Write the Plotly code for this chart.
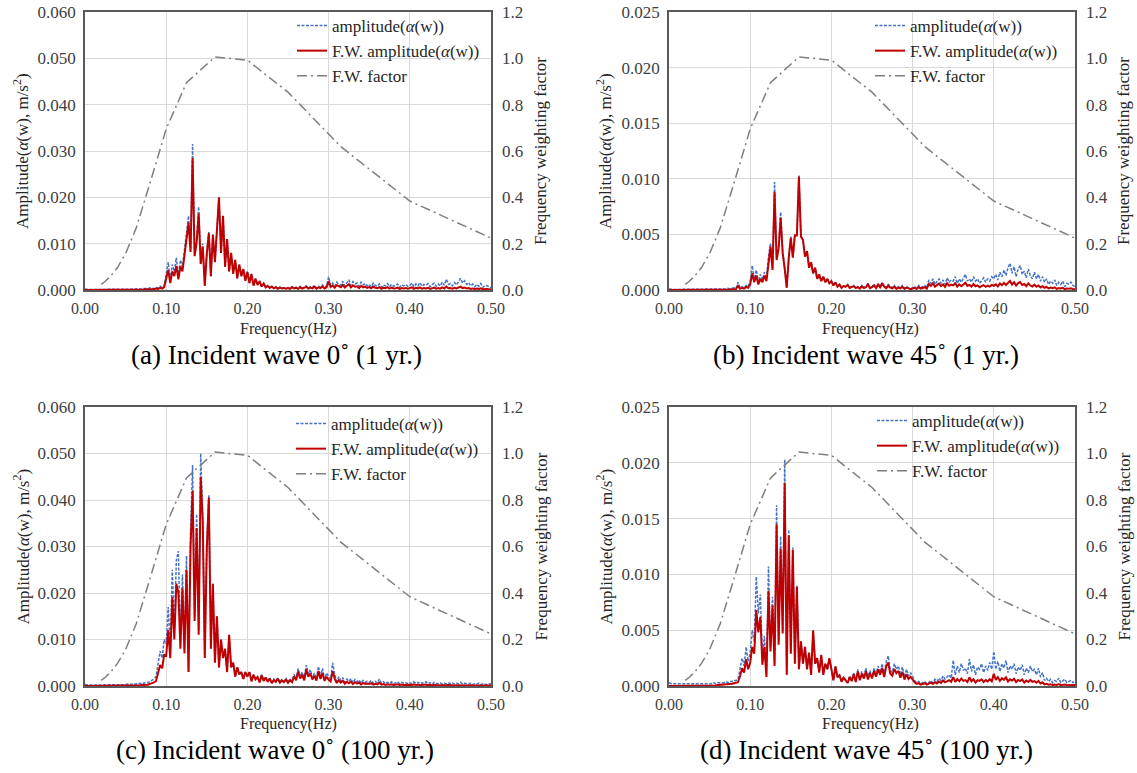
import numpy as np
import plotly.graph_objects as go

# ---------------- data ----------------
# frequency bins (Hz), 0.0025 Hz spacing from 0 to 0.5
freq = np.round(np.arange(0, 0.5001, 0.0025), 4)

# ISO 2631-1 Wf frequency weighting factor (1/3 octave bands)
fw_freq = [0.02, 0.025, 0.0315, 0.04, 0.05, 0.063, 0.08, 0.1, 0.125, 0.16, 0.2, 0.25, 0.315, 0.4, 0.5]
fw_factor = [0.0242, 0.0377, 0.0597, 0.0971, 0.157, 0.267, 0.461, 0.695, 0.895, 1.006, 0.992, 0.854, 0.619, 0.384, 0.224]

# amplitudes in mm/s^2 (converted to m/s^2 for plotting)
amp_a = [0.2,0.1,0.1,0.1,0.1,0.1,0.1,0.1,0.1,0.1,0.1,0.2,0.1,0.1,0.2,0.1,0.1,0.2,0.1,0.2,
         0.2,0.1,0.2,0.2,0.2,0.2,0.3,0.2,0.3,0.3,0.4,0.3,0.5,0.4,0.3,0.6,0.4,0.8,0.5,0.9,
         3.5,6.0,2.0,5.5,4.0,7.0,3.0,6.5,5.0,9.0,13.0,16.0,9.0,31.5,8.0,11.0,18.0,6.0,10.0,1.0,
         8.0,12.5,3.0,12.0,6.0,14.0,20.0,8.0,16.0,5.0,11.0,4.0,8.0,3.5,6.5,2.5,5.5,3.0,4.5,2.0,
         4.0,1.5,3.5,1.0,2.5,1.2,2.0,0.8,1.5,0.6,1.0,0.5,0.8,0.4,0.7,0.3,0.6,0.4,0.5,0.3,
         0.5,0.3,0.7,0.4,0.6,0.3,0.8,0.4,0.6,0.9,0.4,0.7,0.5,1.0,0.4,0.8,0.6,1.1,0.5,0.9,
         2.8,1.0,1.5,0.8,1.7,1.2,1.0,1.9,0.9,1.6,2.2,1.0,1.8,1.3,1.5,0.8,1.7,1.1,1.4,0.9,
         1.2,0.7,1.5,1.0,0.8,1.3,0.6,1.1,0.9,1.4,0.7,1.2,0.8,1.0,1.3,0.6,1.1,0.9,1.2,0.8,
         1.0,1.5,0.7,1.3,0.9,1.6,0.8,1.2,1.0,1.4,0.7,1.1,1.5,0.8,1.3,0.9,1.7,1.0,2.3,1.2,
         1.4,0.9,1.6,1.1,1.8,2.5,1.5,2.0,1.2,1.6,0.9,1.3,0.7,1.2,0.8,1.4,0.6,1.0,0.9,0.7,0.5]
fw_amp_a = [0,0,0,0,0,0,0,0,0,0.01,0.01,0.02,0.01,0.01,0.02,0.02,0.02,0.03,0.02,0.03,
            0.03,0.02,0.04,0.04,0.05,0.05,0.08,0.06,0.1,0.1,0.17,0.14,0.23,0.2,0.16,0.32,0.22,0.46,0.3,0.6,
            2.4,4.3,1.5,4.0,3.0,5.2,2.3,5.1,4.0,7.3,11.6,14.5,8.2,28.5,7.3,10.2,16.5,5.6,9.4,0.9,
            7.8,12.3,3.0,11.9,6.0,14.0,20.0,8.0,16.0,5.0,11.0,4.0,8.0,3.5,6.5,2.5,5.5,3.0,4.5,2.0,
            3.9,1.5,3.4,0.95,2.4,1.1,1.9,0.75,1.4,0.55,0.9,0.45,0.72,0.36,0.62,0.27,0.52,0.35,0.43,0.26,
            0.43,0.25,0.58,0.33,0.49,0.24,0.63,0.31,0.46,0.68,0.3,0.52,0.37,0.72,0.28,0.56,0.41,0.74,0.33,0.6,
            1.85,0.65,0.95,0.5,1.05,0.73,0.6,1.12,0.52,0.92,1.25,0.56,1.0,0.71,0.81,0.43,0.9,0.58,0.73,0.46,
            0.62,0.36,0.75,0.49,0.39,0.62,0.28,0.5,0.4,0.61,0.3,0.5,0.33,0.4,0.51,0.23,0.42,0.34,0.45,0.3,
            0.38,0.56,0.26,0.48,0.33,0.58,0.29,0.43,0.35,0.49,0.24,0.38,0.51,0.27,0.43,0.3,0.55,0.32,0.73,0.37,
            0.43,0.27,0.48,0.32,0.52,0.71,0.42,0.55,0.33,0.43,0.24,0.34,0.18,0.31,0.2,0.35,0.15,0.24,0.21,0.16,0.11]

amp_b = [0.1,0.05,0.05,0.05,0.05,0.05,0.05,0.05,0.05,0.05,0.05,0.05,0.05,0.05,0.05,0.05,0.05,0.05,0.05,0.05,
         0.05,0.05,0.1,0.05,0.1,0.1,0.05,0.1,0.1,0.15,0.1,0.15,0.2,0.15,0.7,0.2,0.3,0.2,0.4,0.3,
         0.8,2.2,1.0,1.8,0.7,1.4,0.9,1.6,1.0,3.0,4.2,2.0,9.7,3.0,4.0,7.0,3.5,2.0,0.2,3.0,
         4.8,3.0,5.0,5.0,10.3,4.8,4.5,3.0,3.5,2.0,2.5,1.5,2.0,1.0,1.4,0.8,1.2,0.7,1.0,0.6,
         0.8,0.4,0.7,0.3,0.5,0.2,0.4,0.3,0.5,0.2,0.3,0.4,0.2,0.3,0.15,0.4,0.2,0.3,0.6,0.2,
         0.3,0.5,0.2,0.6,0.3,0.7,0.4,0.2,0.5,0.3,0.2,0.4,0.15,0.3,0.2,0.4,0.15,0.3,0.2,0.1,
         0.2,0.3,0.15,0.4,0.2,0.3,0.4,0.2,0.9,0.6,1.0,0.5,0.8,1.0,0.6,0.9,0.5,1.1,0.7,0.9,
         0.8,1.2,0.6,1.0,0.7,1.1,1.4,0.8,1.0,0.7,1.2,0.8,1.0,0.6,0.9,1.1,0.7,1.0,0.8,1.2,
         1.0,1.4,0.9,1.6,1.2,1.8,1.3,2.0,2.4,1.5,2.1,1.2,1.9,2.2,1.4,1.7,1.1,1.9,1.3,1.0,
         1.6,1.0,1.4,0.8,1.2,0.7,1.0,0.5,0.8,0.6,0.9,0.4,0.7,0.5,0.8,0.3,0.6,0.5,0.7,0.4,0.3]
fw_amp_b = [0,0,0,0,0,0,0,0,0,0,0,0,0,0,0.01,0.01,0.01,0.01,0.01,0.01,
            0.01,0.01,0.02,0.01,0.02,0.03,0.01,0.03,0.04,0.06,0.05,0.07,0.1,0.08,0.38,0.12,0.19,0.13,0.27,0.2,
            0.5,1.5,0.7,1.3,0.5,1.0,0.7,1.3,0.8,2.6,3.9,1.8,8.8,2.7,3.7,6.5,3.3,1.9,0.2,2.9,
            4.7,2.9,4.9,4.9,10.2,4.8,4.5,3.0,3.5,2.0,2.5,1.5,2.0,1.0,1.4,0.8,1.2,0.7,1.0,0.6,
            0.8,0.4,0.68,0.29,0.48,0.19,0.37,0.28,0.45,0.18,0.27,0.35,0.17,0.26,0.13,0.34,0.17,0.25,0.5,0.17,
            0.25,0.42,0.17,0.49,0.24,0.56,0.31,0.16,0.38,0.22,0.15,0.29,0.11,0.21,0.14,0.28,0.1,0.21,0.14,0.07,
            0.13,0.2,0.1,0.26,0.13,0.19,0.25,0.12,0.55,0.37,0.6,0.3,0.47,0.58,0.35,0.51,0.28,0.61,0.38,0.48,
            0.42,0.61,0.3,0.5,0.34,0.53,0.66,0.37,0.46,0.31,0.53,0.34,0.42,0.25,0.37,0.44,0.28,0.39,0.31,0.46,
            0.38,0.52,0.33,0.58,0.43,0.64,0.45,0.69,0.82,0.5,0.7,0.4,0.62,0.71,0.45,0.54,0.35,0.6,0.4,0.31,
            0.48,0.3,0.41,0.23,0.34,0.2,0.28,0.14,0.22,0.16,0.24,0.1,0.18,0.13,0.2,0.07,0.14,0.12,0.16,0.09,0.07]

amp_c = [0.3,0.2,0.2,0.2,0.2,0.2,0.2,0.2,0.2,0.2,0.2,0.2,0.3,0.2,0.3,0.2,0.3,0.3,0.3,0.3,
         0.3,0.4,0.3,0.4,0.5,0.4,0.6,0.5,0.7,0.6,0.8,0.7,1.0,1.2,1.5,2.0,5.0,7.5,6.0,10.0,
         9,17,8,25,12,27,29,10,24,8,28,3,33,47.5,15,37,12,50,36,6,
         30,41,8,22,5,15,4,10,6,8,3,11,4,5,2,4,2.5,3,1.5,3,
         2,3,1,2.5,1.5,2,0.8,2.5,1.2,2,1,1.8,0.7,1.5,1,1.8,0.8,1.4,1.0,1.6,
         0.8,1.5,1.0,2.5,1.5,3.8,2.0,3.0,1.5,4.5,2.5,3.5,1.8,2.8,1.5,4.2,2.0,3.8,1.5,2.8,
         2.0,1.5,5.0,2.5,1.0,2.0,1.2,1.8,0.8,1.5,1.0,1.6,0.7,1.4,0.9,1.3,0.6,1.2,0.8,1.0,
         0.8,1.2,0.6,1.0,0.7,1.5,0.6,0.9,0.5,0.8,0.6,0.9,0.5,0.7,0.9,0.5,0.8,0.6,0.7,0.5,
         0.7,0.5,0.9,0.6,0.8,0.5,0.7,0.6,0.9,0.5,0.7,0.4,0.8,0.6,0.5,0.7,0.4,0.6,0.5,0.7,
         0.5,0.7,0.4,0.6,0.5,0.8,0.4,0.6,0.5,0.4,0.6,0.3,0.5,0.4,0.6,0.3,0.5,0.4,0.3,0.5,0.4]
fw_amp_c = [0,0,0,0,0,0,0,0,0,0.02,0.02,0.02,0.04,0.03,0.05,0.04,0.05,0.06,0.06,0.07,
            0.05,0.07,0.06,0.08,0.11,0.1,0.16,0.14,0.21,0.2,0.28,0.28,0.45,0.58,0.76,1.07,2.8,4.5,3.8,6.7,
            6.5,12,6,19,10,22,20,8,21,7,25,3,30,42,14,34,11,45,35.5,6,
            29.5,40.5,8,22,5,15,4,10,6,8,3,11,4,5,2,4,2.5,3,1.5,3,
            2,3,1,2.4,1.4,1.9,0.75,2.3,1.1,1.8,0.9,1.6,0.62,1.3,0.88,1.58,0.7,1.2,0.86,1.37,
            0.68,1.27,0.84,2.1,1.25,3.1,1.6,2.4,1.2,3.6,2.0,2.7,1.4,2.2,1.15,3.2,1.5,2.8,1.1,2.0,
            1.35,1.0,3.2,1.6,0.65,1.28,0.76,1.13,0.5,0.92,0.6,0.96,0.42,0.82,0.52,0.74,0.34,0.67,0.44,0.54,
            0.42,0.61,0.3,0.49,0.34,0.71,0.28,0.41,0.22,0.35,0.26,0.38,0.21,0.29,0.36,0.2,0.31,0.23,0.27,0.19,
            0.27,0.19,0.34,0.22,0.29,0.18,0.25,0.21,0.31,0.17,0.24,0.13,0.27,0.2,0.16,0.22,0.13,0.19,0.15,0.21,
            0.15,0.21,0.12,0.17,0.14,0.22,0.11,0.16,0.13,0.1,0.15,0.07,0.12,0.1,0.14,0.07,0.11,0.09,0.07,0.11,0.09]

amp_d = [0.3,0.2,0.2,0.2,0.2,0.2,0.2,0.2,0.2,0.2,0.2,0.2,0.2,0.2,0.2,0.2,0.2,0.2,0.2,0.2,
         0.2,0.2,0.3,0.2,0.3,0.3,0.3,0.3,0.4,0.3,0.4,0.4,0.5,0.5,0.6,1.5,2.5,1.8,3.5,2.2,
         3.0,5.0,4.0,9.8,6.5,8.2,2.5,4.5,1.0,10.7,3.5,8.0,2.0,16.2,4.0,13.4,5.0,20.3,1.0,14.0,
         3.0,12.4,2.0,9.0,1.5,4.0,2.0,3.5,1.5,3.0,1.0,5.0,2.0,2.5,1.2,2.8,1.0,2.0,1.5,2.5,
         1.5,0.5,1.8,0.8,1.0,0.4,0.8,0.5,0.3,0.9,0.5,1.2,0.4,1.5,0.6,1.3,0.8,1.6,0.7,1.4,
         0.8,1.6,1.0,1.8,1.2,2.0,1.0,2.2,2.7,1.4,1.2,2.0,1.5,1.8,1.0,1.7,0.8,1.5,0.9,1.2,
         0.8,0.5,0.3,0.4,0.2,0.3,0.4,0.2,0.3,0.5,0.3,0.6,0.4,0.7,0.5,0.9,0.6,0.8,1.0,0.7,
         2.3,1.0,1.8,1.2,2.0,1.4,1.6,1.1,2.4,1.3,1.9,1.0,1.7,1.5,2.0,1.2,1.8,1.4,2.1,1.5,
         3.1,1.5,2.2,1.3,2.0,1.6,2.3,1.2,1.8,1.5,2.0,1.1,1.7,1.4,1.9,1.0,1.6,1.2,1.8,1.3,
         1.5,1.0,1.6,0.8,1.2,0.5,0.7,0.4,0.6,0.3,0.5,0.4,0.7,0.3,0.5,0.6,0.3,0.4,0.5,0.3,0.4]
fw_amp_d = [0,0,0,0,0,0,0,0,0,0.01,0.01,0.01,0.02,0.02,0.02,0.03,0.03,0.03,0.04,0.04,
            0.03,0.04,0.06,0.05,0.08,0.09,0.09,0.1,0.15,0.12,0.18,0.2,0.25,0.27,0.34,0.9,1.6,1.2,2.4,1.5,
            2.1,3.5,2.9,6.8,4.8,6.2,1.9,3.5,0.8,8.5,3.1,7.2,1.8,14.5,3.7,12.3,4.7,18.2,1.0,13.5,
            2.9,12.2,2.0,8.9,1.5,4.0,2.0,3.5,1.5,3.0,1.0,5.0,2.0,2.5,1.2,2.8,1.0,2.0,1.5,2.5,
            1.5,0.5,1.75,0.77,0.95,0.38,0.74,0.46,0.27,0.8,0.44,1.05,0.35,1.29,0.51,1.1,0.67,1.33,0.58,1.15,
            0.68,1.35,0.84,1.5,1.0,1.62,0.8,1.76,2.1,1.1,0.93,1.53,1.14,1.35,0.74,1.25,0.58,1.07,0.63,0.83,
            0.54,0.33,0.19,0.26,0.13,0.19,0.25,0.12,0.18,0.3,0.18,0.35,0.23,0.4,0.28,0.5,0.33,0.43,0.53,0.37,
            0.8,0.36,0.62,0.42,0.66,0.46,0.53,0.36,0.78,0.42,0.6,0.31,0.53,0.46,0.6,0.36,0.53,0.41,0.6,0.42,
            1.1,0.55,0.8,0.46,0.7,0.56,0.78,0.4,0.6,0.49,0.65,0.35,0.54,0.44,0.59,0.31,0.49,0.36,0.54,0.38,
            0.44,0.29,0.46,0.22,0.33,0.14,0.19,0.11,0.16,0.08,0.13,0.1,0.17,0.07,0.12,0.14,0.07,0.09,0.11,0.07,0.09]

MM_TO_M = 1e-3

captions = ["(a) Incident wave 0˚ (1 yr.)", "(b) Incident wave 45˚ (1 yr.)",
            "(c) Incident wave 0˚ (100 yr.)", "(d) Incident wave 45˚ (100 yr.)"]
y_max = [0.060, 0.025, 0.060, 0.025]
y_step = [0.010, 0.005, 0.010, 0.005]
amps = [amp_a, amp_b, amp_c, amp_d]
fw_amps = [fw_amp_a, fw_amp_b, fw_amp_c, fw_amp_d]

# ---------------- layout geometry (screen pixels) ----------------
W, H = 1137, 773
px_x = [(85, 491), (669, 1075), (85, 491), (669, 1075)]
px_y = [(12, 290), (12, 290), (407, 686), (407, 686)]
cap_x = [276, 866, 275, 866]
cap_y = [355, 355, 750, 750]
xt_x = [288, 870, 288, 870]
xt_y = [329, 329, 724, 724]
lt_x = [21, 604, 21, 604]
rt_x = [541, 1124, 541, 1124]
leg_x = [292, 870, 291, 872]
leg_y = [8, 8, 406, 403]

def fx(p):
    return p / W

def fy(p):
    return 1 - p / H

SERIF = "Liberation Serif, Times New Roman, serif"
BLUE = "#4472C4"
RED = "#C00000"
GRAY = "#7F7F7F"
GRID = "#D9D9D9"
FRAME = "#595959"
TICKC = "#404040"
TXT = "#262626"

fig = go.Figure()
annotations = []
layout_axes = {}

for k in range(4):
    n = k + 1
    xa = "x" if n == 1 else f"x{n}"
    ya = "y" if n == 1 else f"y{2*n-1}"
    yb = f"y{2*n}"
    lg = "legend" if n == 1 else f"legend{n}"
    amp_m = np.array(amps[k]) * MM_TO_M
    fw_m = np.array(fw_amps[k]) * MM_TO_M
    fig.add_trace(go.Scatter(x=freq, y=amp_m, mode="lines", name="amplitude(<i>α</i>(w))",
                             line=dict(color=BLUE, width=1.5, dash="3px,1.5px"),
                             xaxis=xa, yaxis=ya, legend=lg))
    fig.add_trace(go.Scatter(x=freq, y=fw_m, mode="lines", name="F.W. amplitude(<i>α</i>(w))",
                             line=dict(color=RED, width=2.0),
                             xaxis=xa, yaxis=ya, legend=lg))
    fig.add_trace(go.Scatter(x=fw_freq, y=fw_factor, mode="lines", name="F.W. factor",
                             line=dict(color=GRAY, width=1.5, dash="10px,4px,2px,4px"),
                             xaxis=xa, yaxis=yb, legend=lg))

    x0, x1 = px_x[k]
    y0, y1 = px_y[k]
    xkey = "xaxis" if n == 1 else f"xaxis{n}"
    yakey = "yaxis" if n == 1 else f"yaxis{2*n-1}"
    ybkey = f"yaxis{2*n}"
    layout_axes[xkey] = dict(domain=[fx(x0), fx(x1)], anchor=ya, range=[0, 0.5],
                             tickvals=[0, 0.1, 0.2, 0.3, 0.4, 0.5], tickformat=".2f",
                             showgrid=True, gridcolor=GRID, gridwidth=1,
                             showline=True, linecolor=FRAME, linewidth=1.5, mirror=True,
                             ticks="", zeroline=False, automargin=False,
                             ticklabelstandoff=3, ticklabeloverflow="allow",
                             tickfont=dict(family=SERIF, size=16, color=TICKC))
    layout_axes[yakey] = dict(domain=[fy(y1), fy(y0)], anchor=xa, range=[0, y_max[k]],
                              dtick=y_step[k], tick0=0, tickformat=".3f",
                              showgrid=True, gridcolor=GRID, gridwidth=1,
                              showline=True, linecolor=FRAME, linewidth=1.5, mirror=True,
                              ticks="", zeroline=False, automargin=False,
                              ticklabelstandoff=4, ticklabeloverflow="allow",
                              tickfont=dict(family=SERIF, size=17, color=TICKC))
    layout_axes[ybkey] = dict(overlaying=ya, side="right",
                              anchor=xa, range=[0, 1.2], dtick=0.2, tick0=0, tickformat=".1f",
                              showgrid=False, zeroline=False, showline=False, ticks="",
                              ticklabelstandoff=10, automargin=False,
                              ticklabeloverflow="allow",
                              tickfont=dict(family=SERIF, size=17, color=TICKC))

    layout_axes[lg] = dict(x=fx(leg_x[k]), y=fy(leg_y[k]), xanchor="left", yanchor="top",
                           bgcolor="rgba(0,0,0,0)", borderwidth=0,
                           font=dict(family=SERIF, size=17, color=TXT),
                           tracegroupgap=0, itemwidth=30)

    cy = (y0 + y1) / 2
    annotations.append(dict(x=fx(lt_x[k]), y=fy(cy), xref="paper", yref="paper",
                            text="Amplitude(<i>α</i>(w), m/s<sup>2</sup>)", textangle=-90,
                            showarrow=False, xanchor="center", yanchor="middle",
                            font=dict(family=SERIF, size=17, color=TXT)))
    annotations.append(dict(x=fx(rt_x[k]), y=fy(cy), xref="paper", yref="paper",
                            text="Frequency weighting factor", textangle=-90,
                            showarrow=False, xanchor="center", yanchor="middle",
                            font=dict(family=SERIF, size=17, color=TXT)))
    annotations.append(dict(x=fx(xt_x[k]), y=fy(xt_y[k]), xref="paper", yref="paper",
                            text="Frequency(Hz)", showarrow=False,
                            xanchor="center", yanchor="middle",
                            font=dict(family=SERIF, size=16, color=TXT)))
    annotations.append(dict(x=fx(cap_x[k]), y=fy(cap_y[k]), xref="paper", yref="paper",
                            text=captions[k], showarrow=False,
                            xanchor="center", yanchor="middle",
                            font=dict(family=SERIF, size=27, color="black")))

fig.update_layout(width=W, height=H, autosize=False,
                  margin=dict(l=0, r=0, t=0, b=0, autoexpand=False),
                  paper_bgcolor="white", plot_bgcolor="white",
                  showlegend=True, annotations=annotations, **layout_axes)

# remove the browser's default page margin so the figure sits at the window origin
fig.write_html("out.html", config={"displayModeBar": False},
               post_script="document.body.style.margin='0';document.body.style.overflow='hidden';")
